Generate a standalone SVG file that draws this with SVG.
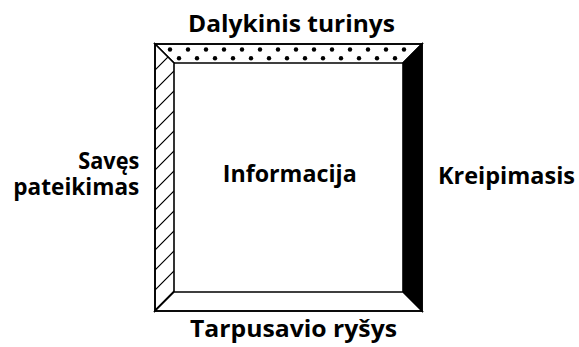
<svg xmlns="http://www.w3.org/2000/svg" width="579" height="347" viewBox="0 0 579 347">
<style>
.t{font-family:"Open Sans","Noto Sans","Liberation Sans",sans-serif;font-weight:bold;font-size:22.5px;fill:#000}
.e{stroke:#000;stroke-width:1.6;stroke-linejoin:miter}
.h{stroke:#000;stroke-width:1.1}
</style>
<defs>
<clipPath id="lc"><polygon points="155,44 174,63 174,292 155,311"/></clipPath>
</defs>
<rect width="579" height="347" fill="#fff"/>
<g id="frame">
<polygon id="top" class="e" points="155,44 422,44 403,63 174,63" fill="#fff"/>
<g id="dots" fill="#000">
<circle cx="170" cy="49.5" r="2.2"/><circle cx="188" cy="49.5" r="2.2"/><circle cx="206" cy="49.5" r="2.2"/><circle cx="224" cy="49.5" r="2.2"/><circle cx="242" cy="49.5" r="2.2"/><circle cx="260" cy="49.5" r="2.2"/><circle cx="278" cy="49.5" r="2.2"/><circle cx="296" cy="49.5" r="2.2"/><circle cx="314" cy="49.5" r="2.2"/><circle cx="332" cy="49.5" r="2.2"/><circle cx="350" cy="49.5" r="2.2"/><circle cx="368" cy="49.5" r="2.2"/><circle cx="386" cy="49.5" r="2.2"/><circle cx="404" cy="49.5" r="2.2"/>
<circle cx="179" cy="58.3" r="2.2"/><circle cx="197" cy="58.3" r="2.2"/><circle cx="215" cy="58.3" r="2.2"/><circle cx="233" cy="58.3" r="2.2"/><circle cx="251" cy="58.3" r="2.2"/><circle cx="269" cy="58.3" r="2.2"/><circle cx="287" cy="58.3" r="2.2"/><circle cx="305" cy="58.3" r="2.2"/><circle cx="323" cy="58.3" r="2.2"/><circle cx="341" cy="58.3" r="2.2"/><circle cx="359" cy="58.3" r="2.2"/><circle cx="377" cy="58.3" r="2.2"/><circle cx="395" cy="58.3" r="2.2"/>
</g>
<polygon id="left" class="e" points="155,44 174,63 174,292 155,311" fill="#fff"/>
<g id="hatch" clip-path="url(#lc)">
<path class="h" d="M155,70 l19,-19 M155,90 l19,-19 M155,110 l19,-19 M155,130 l19,-19 M155,150 l19,-19 M155,170 l19,-19 M155,190 l19,-19 M155,210 l19,-19 M155,230 l19,-19 M155,250 l19,-19 M155,270 l19,-19 M155,290 l19,-19 M155,310 l19,-19"/>
</g>
<polygon id="right" class="e" points="422,44 422,311 403,292 403,63" fill="#000"/>
<polygon id="bottom" class="e" points="155,311 174,292 403,292 422,311" fill="#fff"/>
<rect class="e" x="155" y="44" width="267" height="267" fill="none" stroke-width="2"/>
</g>
<g id="labels">
<text class="t" x="188" y="31.5" textLength="207" lengthAdjust="spacingAndGlyphs">Dalykinis turinys</text>
<text class="t" x="190" y="337" textLength="207" lengthAdjust="spacingAndGlyphs">Tarpusavio ryšys</text>
<text class="t" x="78.3" y="168.5" textLength="61" lengthAdjust="spacingAndGlyphs">Savęs</text>
<text class="t" x="13.3" y="195" textLength="126" lengthAdjust="spacingAndGlyphs">pateikimas</text>
<text class="t" x="438" y="183.5" textLength="137" lengthAdjust="spacingAndGlyphs">Kreipimasis</text>
<text class="t" x="222.7" y="182" textLength="134" lengthAdjust="spacingAndGlyphs">Informacija</text>
</g>
</svg>
